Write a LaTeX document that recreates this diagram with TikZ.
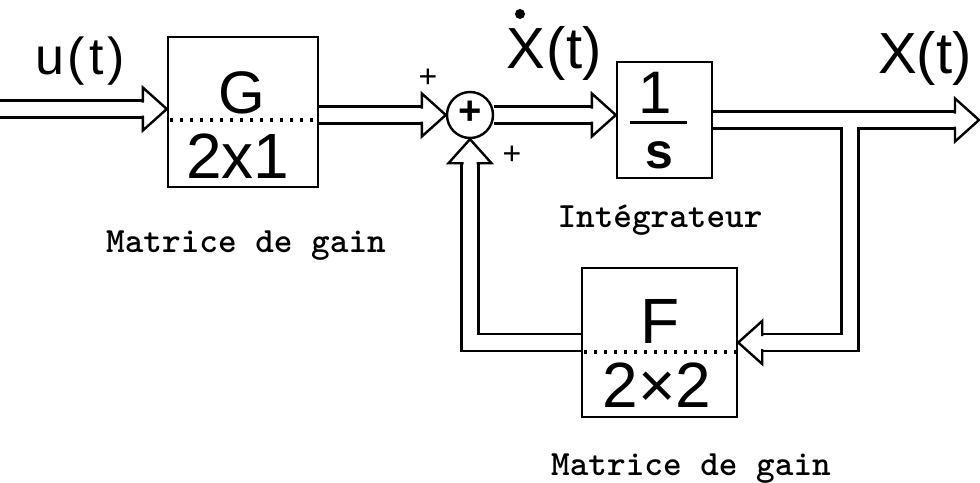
\documentclass[tikz,border=0pt]{standalone}
\usepackage{fontspec}
\newfontfamily\lab{Liberation Sans}
\usetikzlibrary{calc,backgrounds}
\begin{document}
\begin{tikzpicture}[x=1pt,y=-1pt,
  box/.style={draw,line width=2.4pt,rectangle,inner sep=0pt},
  dbl/.style={draw,line width=2.4pt,double distance=14.5pt,line join=miter,shorten >=22pt},
  dotline/.style={line width=3.4pt,dash pattern=on 3pt off 7pt},
  lbl/.style={inner sep=0pt,font=\lab\fontsize{#1}{#1}\selectfont},
  tw/.style={font=\ttfamily\bfseries\fontsize{35.5}{36}\selectfont,inner sep=0pt,anchor=base},
  pics/hd/.style={code={\draw[line width=2.4pt,line join=miter,fill=white] (-24,6.5) -- (-24,21.5) -- (0,0) -- (-24,-21.5) -- (-24,-6.5);}}
]
\useasboundingbox (0,0) rectangle (980,482);
% blocks
\node[box,minimum width=150pt,minimum height=150pt] (G) at (243,112) {};
\node[box,minimum width=95pt,minimum height=116pt] (I) at (664.5,120) {};
\node[box,minimum width=155pt,minimum height=149pt] (F) at (659.5,342.5) {};
\node[draw,circle,line width=2.4pt,minimum size=46pt,inner sep=0pt] (s) at (470,115) {};
% dotted separators and fraction bar
\draw[dotline] (170,120) -- (318,120);
\draw[dotline] (584,352) -- (737,352);
\draw[line width=3pt] (630,122) -- (687,122);
% block texts
\node[lbl=60,anchor=base] (Gt) at (242,113) {G};
\node[lbl=64,anchor=base] (Gd) at (238,178) {2x1};
\node[lbl=64,anchor=base] (Ft) at (660,343) {F};
\node[lbl=64,anchor=base] (Fd) at (657,407) {2×2};
\node[lbl=60,anchor=base] (one) at (655,113) {1};
\node[lbl=50,anchor=base,font=\lab\bfseries\fontsize{50}{50}\selectfont] (ess) at (659,168) {s};
\node[lbl=40,font=\lab\bfseries\fontsize{40}{40}\selectfont] (sp) at (470,113) {+};
\node[lbl=32] (p1) at (428,78) {+};
\node[lbl=32] (p2) at (512,155) {+};
% signal labels
\node[lbl=52] (ut) at (80,61) {u\kern4pt(\kern4pt t\kern4pt)};
\node[lbl=58] (xd) at (554,53) {X\kern2pt(t)};
\fill (520,14) circle (5);
\node[lbl=58] (xt) at (925,58) {X(t)};
% captions
\node[tw] (c1) at (246,252) {Matrice de gain};
\node[tw] (c2) at (660,227) {Intégrateur};
\node[tw] (c3) at (691,475) {Matrice de gain};
% connectors
\coordinate (in) at (0,109);
\coordinate (out) at (979,120);
\coordinate (br) at (850,127.2);
\begin{scope}[on background layer]
\draw[dbl] (in) -- (in -| G.west); \pic at (in -| G.west) {hd};
\draw[dbl] (s.west -| G.east) -- (s.west); \pic at (s.west) {hd};
\draw[dbl] (s.east) -- (s.east -| I.west); \pic at (s.east -| I.west) {hd};
\draw[dbl] (I.east) -- (out); \pic at (out) {hd};
\draw[dbl] (br) |- (F.east); \pic[rotate=180] at (F.east) {hd};
\draw[dbl] (F.west) -| (s.south); \pic[rotate=90] at (s.south) {hd};
\end{scope}
\end{tikzpicture}
\end{document}
